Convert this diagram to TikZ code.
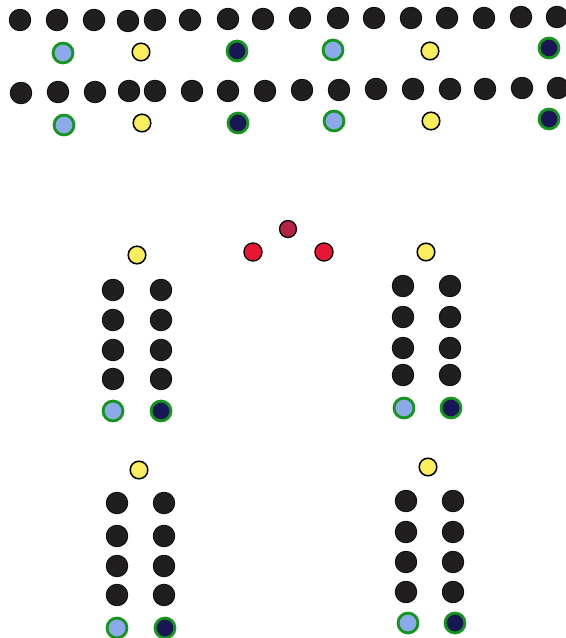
\documentclass[tikz,border=0pt]{standalone}
\usepackage{xcolor}
\usepackage{tikz}
\definecolor{DotBlack}{RGB}{32,30,30}
\definecolor{DotYellow}{RGB}{250,238,95}
\definecolor{DotRed}{RGB}{232,22,52}
\definecolor{DotMaroon}{RGB}{178,36,66}
\definecolor{RingGreen}{RGB}{20,150,30}
\definecolor{DotSky}{RGB}{140,170,235}
\definecolor{DotNavy}{RGB}{25,22,85}

\begin{document}
\begin{tikzpicture}[x=0.03cm, y=-0.03cm,
      dot/.style={circle, inner sep=0pt, draw=black},
      blackdot/.style={dot, fill=DotBlack, minimum size=18.5pt, line width=0.6pt},
      yellowdot/.style={dot, fill=DotYellow, minimum size=15pt, line width=1.3pt},
      reddot/.style={dot, fill=DotRed, minimum size=15.5pt, line width=1.1pt},
      maroondot/.style={dot, fill=DotMaroon, minimum size=14.5pt, line width=1.1pt},
      ringdot/.style={circle, inner sep=0pt, draw=RingGreen, line width=2.4pt,
                      minimum size=17pt},
      skydot/.style={ringdot, fill=DotSky},
      navydot/.style={ringdot, fill=DotNavy}
    ]
    \useasboundingbox (0,0) rectangle (566,638);

    % two long rows at the top
    \foreach \x/\y [count=\i] in {20/20, 57/20, 94/20, 128/21, 155/20, 190/20,
        228/19, 263/19, 300/18, 338/18, 374/18, 411/18, 447/18, 484/18, 521/17, 557/17}{
      \node[blackdot] (ra\i) at (\x,\y) {};
    }
    \foreach \x/\y [count=\i] in {21/93, 58/92, 95/92, 129/91, 155/91, 192/91,
        228/91, 265/91, 302/90, 339/90, 376/89, 413/89, 450/89, 485/89, 522/88, 558/88}{
      \node[blackdot] (rb\i) at (\x,\y) {};
    }

    \node[skydot]    (ma1) at (63,53)  {};
    \node[yellowdot] (ma2) at (141,52) {};
    \node[navydot]   (ma3) at (237,51) {};
    \node[skydot]    (ma4) at (333,50) {};
    \node[yellowdot] (ma5) at (430,51) {};
    \node[navydot]   (ma6) at (549,48) {};

    \node[skydot]    (mb1) at (64,125)  {};
    \node[yellowdot] (mb2) at (142,123) {};
    \node[navydot]   (mb3) at (238,123) {};
    \node[skydot]    (mb4) at (334,121) {};
    \node[yellowdot] (mb5) at (431,121) {};
    \node[navydot]   (mb6) at (549,119) {};

    % the three red ones
    \node[maroondot] (rtop)   at (288,229) {};
    \node[reddot]    (rleft)  at (253,252) {};
    \node[reddot]    (rright) at (324,252) {};

    % four blocks of two columns
    \node[yellowdot] (ya) at (137,255) {};
    \foreach \y [count=\i] in {290, 320, 350, 379}{
      \node[blackdot] (al\i) at (113,\y) {};
      \node[blackdot] (ar\i) at (161,\y) {};
    }
    \node[skydot]  (as) at (113,411) {};
    \node[navydot] (an) at (161,411) {};

    \node[yellowdot] (yb) at (426,252) {};
    \foreach \y [count=\i] in {286, 317, 348, 375}{
      \node[blackdot] (bl\i) at (403,\y) {};
      \node[blackdot] (br\i) at (450,\y) {};
    }
    \node[skydot]  (bs) at (404,408) {};
    \node[navydot] (bn) at (451,408) {};

    \node[yellowdot] (yc) at (139,470) {};
    \foreach \y [count=\i] in {503, 536, 566, 595}{
      \node[blackdot] (cl\i) at (117,\y) {};
      \node[blackdot] (cr\i) at (164,\y) {};
    }
    \node[skydot]  (cs) at (117,628) {};
    \node[navydot] (cn) at (165,628) {};

    \node[yellowdot] (yd) at (428,467) {};
    \foreach \y [count=\i] in {501, 532, 562, 592}{
      \node[blackdot] (dl\i) at (406,\y) {};
      \node[blackdot] (dr\i) at (453,\y) {};
    }
    \node[skydot]  (ds) at (408,623) {};
    \node[navydot] (dn) at (455,623) {};
\end{tikzpicture}
\end{document}
